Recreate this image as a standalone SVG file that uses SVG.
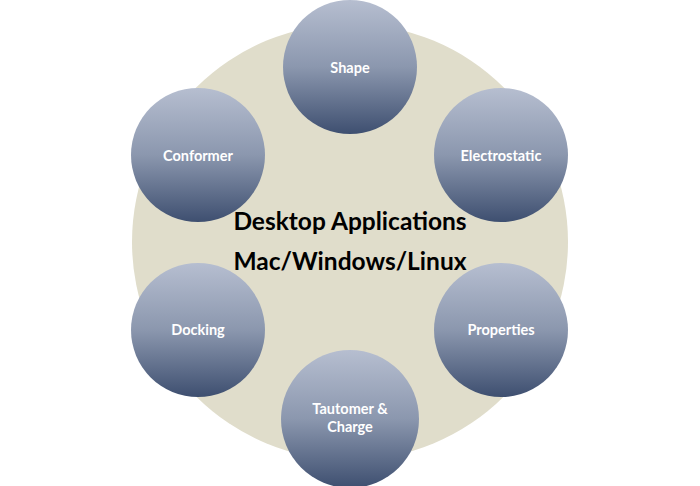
<svg xmlns="http://www.w3.org/2000/svg" width="700" height="486" viewBox="0 0 700 486">
<defs>
<linearGradient id="g" x1="0" y1="0" x2="0" y2="1">
<stop offset="0" stop-color="#b6bed0"/>
<stop offset="0.5" stop-color="#8b97ae"/>
<stop offset="1" stop-color="#3e4f70"/>
</linearGradient>
<style>
.n{fill:url(#g);}
.t{font-family:Lato,"Open Sans","Liberation Sans",sans-serif;font-weight:bold;font-size:14.5px;fill:#ffffff;text-anchor:middle;}
.c{font-family:Lato,"Open Sans","Liberation Sans",sans-serif;font-weight:bold;font-size:24.5px;fill:#000000;text-anchor:middle;}
</style>
</defs>
<rect width="700" height="486" fill="#ffffff"/>
<g id="hub">
<circle cx="350" cy="242" r="218" fill="#e0ddcb"/>
<text class="c" x="350" y="230">Desktop Applications</text>
<text class="c" x="350" y="270">Mac/Windows/Linux</text>
</g>
<g id="connectors"></g>
<g id="shape"><circle class="n" cx="350" cy="67" r="67"/><text class="t" x="350" y="73">Shape</text></g>
<g id="electrostatic"><circle class="n" cx="501" cy="155" r="67"/><text class="t" x="501" y="161">Electrostatic</text></g>
<g id="properties"><circle class="n" cx="501" cy="330" r="67"/><text class="t" x="501" y="335">Properties</text></g>
<g id="tautomer"><circle class="n" cx="350" cy="419" r="69"/><text class="t" x="350" y="414">Tautomer &amp;</text><text class="t" x="350" y="432">Charge</text></g>
<g id="docking"><circle class="n" cx="198" cy="330" r="67"/><text class="t" x="198" y="335">Docking</text></g>
<g id="conformer"><circle class="n" cx="198" cy="155" r="67"/><text class="t" x="198" y="161">Conformer</text></g>
</svg>
